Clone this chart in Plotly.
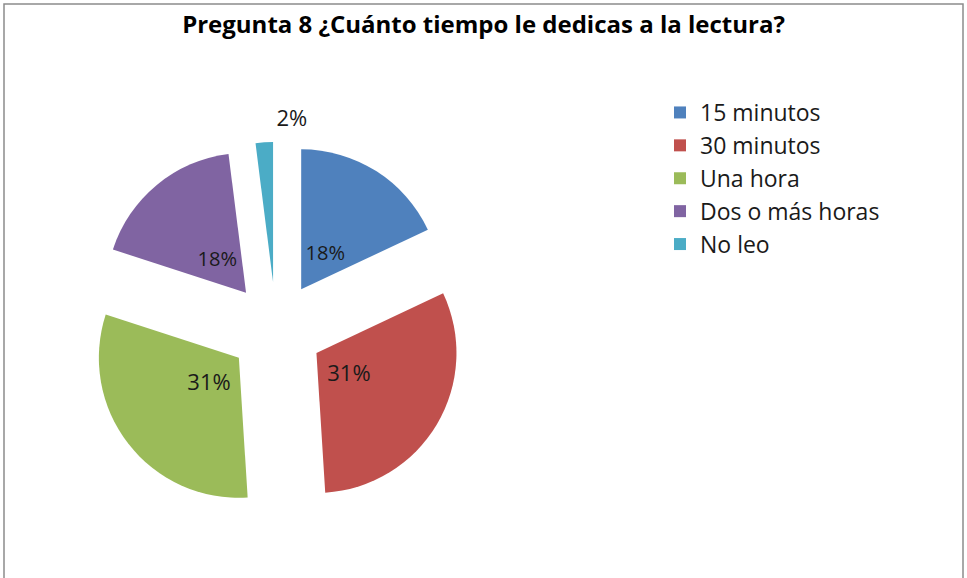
import plotly.graph_objects as go

categories = ["15 minutos", "30 minutos", "Una hora", "Dos o más horas", "No leo"]
values = [18, 31, 31, 18, 2]
colors = ["#4F81BD", "#C0504D", "#9BBB59", "#8064A2", "#4BACC6"]
title_text = "Pregunta 8 ¿Cuánto tiempo le dedicas a la lectura?"

W, H = 967, 578
cx, cy = 276, 329       # pie centre (px from top-left)
R, D = 140, 47          # slice radius and explosion distance (px)
R2 = 69                 # radius of the transparent pie carrying inside labels
R3 = 197                # radius of the transparent pie carrying the small outside label
n = len(values)
clear = ["rgba(0,0,0,0)"] * n
font = "Open Sans"


def dom(half, x0=cx):
    return dict(x=[(x0 - half) / W, (x0 + half) / W],
                y=[(H - cy - half) / H, (H - cy + half) / H])


fig = go.Figure()
fig.add_trace(go.Pie(
    labels=categories, values=values, sort=False,
    direction="clockwise", rotation=0,
    pull=[D / R] * n,
    marker=dict(colors=colors, line=dict(width=0)),
    textinfo="none",
    domain=dom(R + D), automargin=False,
    hoverinfo="label+percent",
))
# transparent inner pie that only carries the inside percentage labels
fig.add_trace(go.Pie(
    labels=categories, values=values, sort=False,
    direction="clockwise", rotation=0,
    pull=[D / R2] * n,
    marker=dict(colors=clear, line=dict(width=0)),
    texttemplate=["%{percent:.0%}"] * 4 + [""],
    textposition=["inside"] * 4 + ["none"],
    insidetextorientation="horizontal",
    insidetextfont=dict(family=font, size=22, color="#1a1a1a"),
    domain=dom(R2 + D), automargin=False,
    showlegend=False, hoverinfo="skip",
))
# transparent outer pie that only carries the label of the smallest slice
fig.add_trace(go.Pie(
    labels=categories, values=values, sort=False,
    direction="clockwise", rotation=3.9,
    marker=dict(colors=clear, line=dict(width=0)),
    texttemplate=[""] * 4 + ["%{percent:.0%}"],
    textposition=["none"] * 4 + ["outside"],
    outsidetextfont=dict(family=font, size=22, color="#1a1a1a"),
    domain=dom(R3, cx - 8), automargin=False,
    showlegend=False, hoverinfo="skip",
))

fig.update_layout(
    width=W, height=H,
    margin=dict(l=0, r=0, t=0, b=0, pad=0, autoexpand=False),
    paper_bgcolor="white",
    plot_bgcolor="white",
    title=dict(text="<b>" + title_text + "</b>", x=0.5, xanchor="center",
               y=1 - 25 / H, yanchor="middle",
               font=dict(family=font, size=24, color="#000000")),
    legend=dict(x=660 / W, y=1 - 91 / H, xanchor="left", yanchor="top",
                font=dict(family=font, size=23, color="#1a1a1a"),
                bgcolor="rgba(0,0,0,0)"),
    showlegend=True,
    shapes=[dict(type="path", xref="paper", yref="paper",
                 path=f"M {4/W},-0.05 L {4/W},{1-4/H} L {963/W},{1-4/H} L {963/W},-0.05",
                 line=dict(color="#8c8c8c", width=1.5))],
)

fig.write_html("out.html", config={"displayModeBar": False},
               post_script="document.body.style.margin='0';")
